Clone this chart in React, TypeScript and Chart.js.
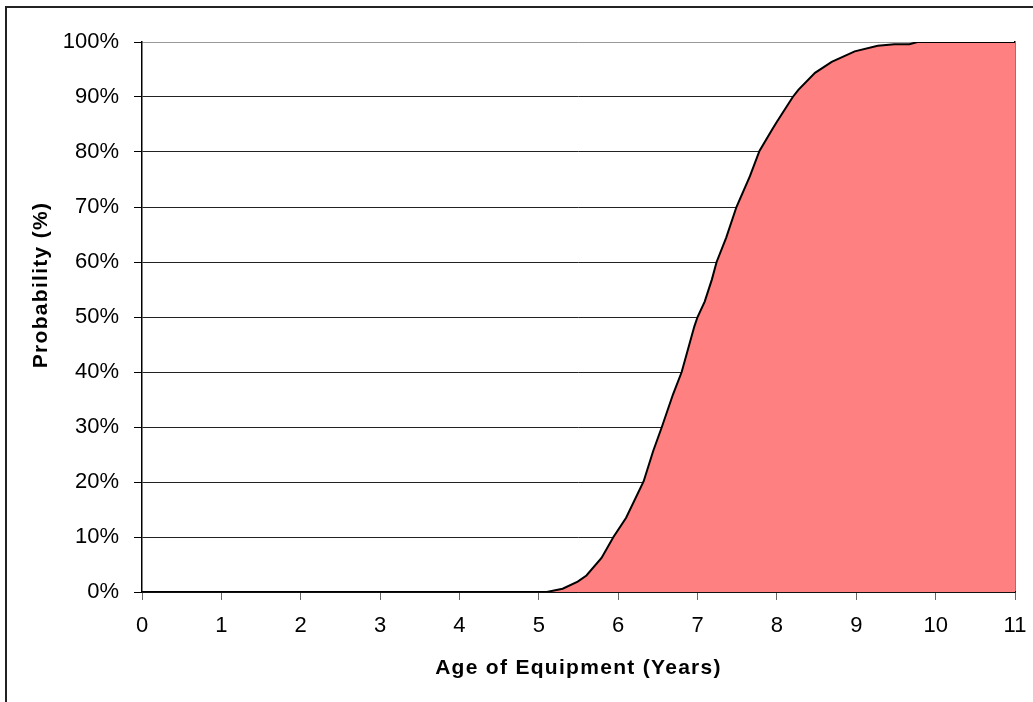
import React, { useEffect, useRef } from "react";
import { Chart, registerables } from "chart.js";

Chart.register(...registerables);

const ages = [0, 5.1, 5.3, 5.49, 5.6, 5.79, 5.94, 6.1, 6.32, 6.44, 6.55, 6.69, 6.8, 6.96, 7.0, 7.09, 7.18, 7.24, 7.36, 7.49, 7.66, 7.78, 7.94, 8.0, 8.2, 8.27, 8.48, 8.69, 8.98, 9.27, 9.48, 9.67, 9.77, 11];
const probabilities = [0, 0, 0.6, 1.9, 3, 6.2, 10, 13.5, 20.1, 25.6, 30, 35.9, 40, 48.3, 50, 52.8, 56.8, 60, 64.4, 70, 75.6, 80.2, 84.1, 85.5, 90, 91.3, 94.4, 96.4, 98.3, 99.3, 99.6, 99.6, 100, 100];
const xTitle = "Age of Equipment (Years)";
const yTitle = "Probability (%)";
const xMin = 0;
const xMax = 11;
const yMin = 0;
const yMax = 100;

const FONT = "'Liberation Sans', Arial, sans-serif";

const titlePlugin = {
  id: "axisTitles",
  afterDraw(chart: any) {
    const ctx = chart.ctx as CanvasRenderingContext2D;
    const area = chart.chartArea;
    ctx.save();
    ctx.fillStyle = "#000";
    ctx.font = `bold 21px ${FONT}`;
    (ctx as any).letterSpacing = "1.3px";
    ctx.textAlign = "center";
    ctx.textBaseline = "middle";
    ctx.fillText(xTitle, (area.left + area.right) / 2, 668);
    ctx.translate(41, 285);
    ctx.rotate(-Math.PI / 2);
    ctx.fillText(yTitle, 0, 0);
    ctx.restore();
  },
};

export default function App() {
  const canvasRef = useRef<HTMLCanvasElement | null>(null);

  useEffect(() => {
    if (!canvasRef.current) return;
    const chart = new Chart(canvasRef.current, {
      type: "line",
      data: {
        datasets: [
          {
            data: ages.map((a, i) => ({ x: a, y: probabilities[i] })),
            borderColor: "#000",
            borderWidth: 2,
            backgroundColor: "#FF8080",
            fill: "origin",
            pointRadius: 0,
            tension: 0,
          },
        ],
      },
      options: {
        animation: false,
        responsive: false,
        maintainAspectRatio: false,
        layout: { padding: { top: 42, right: 18, left: 0, bottom: 0 } },
        plugins: { legend: { display: false }, tooltip: { enabled: false }, title: { display: false } },
        scales: {
          x: {
            type: "linear",
            min: xMin,
            max: xMax,
            afterFit: (s: any) => {
              s.height = 110;
              s.paddingLeft = 0;
              s.paddingRight = 0;
            },
            ticks: {
              stepSize: 1,
              color: "#000",
              font: { family: FONT, size: 22 },
              padding: 13,
              maxRotation: 0,
            },
            grid: {
              drawOnChartArea: false,
              drawTicks: true,
              tickLength: 8,
              tickColor: "#666",
              tickWidth: 1,
            },
            border: { display: true, color: "#000", width: 1.5 },
          },
          y: {
            min: yMin,
            max: yMax,
            afterFit: (s: any) => {
              s.width = 142;
              s.paddingTop = 0;
              s.paddingBottom = 0;
            },
            ticks: {
              stepSize: 10,
              color: "#000",
              font: { family: FONT, size: 22 },
              padding: 15,
              callback: (v: any) => `${v}%`,
            },
            grid: {
              color: (c: any) => (c.tick && c.tick.value === 100 ? "#999" : "#222"),
              lineWidth: 1,
              tickLength: 8,
              tickColor: "#000",
            },
            border: { display: true, color: "#000", width: 1.5 },
          },
          yRight: {
            position: "right",
            min: yMin,
            max: yMax,
            afterFit: (s: any) => {
              s.width = 0;
              s.paddingTop = 0;
              s.paddingBottom = 0;
            },
            ticks: { display: false },
            grid: { drawOnChartArea: false, drawTicks: false },
            border: { display: true, color: "#000", width: 1.5 },
          },
        },
      },
      plugins: [titlePlugin],
    } as any);
    return () => chart.destroy();
  }, []);

  return (
    <div style={{ position: "absolute", left: 0, top: 0, width: 1033, height: 702, overflow: "hidden", background: "#fff" }}>
      <div
        style={{
          position: "absolute",
          left: 5,
          top: 6,
          width: 1100,
          height: 800,
          border: "2px solid #222",
          boxSizing: "border-box",
        }}
      />
      <canvas ref={canvasRef} width={1033} height={702} style={{ position: "absolute", left: 0, top: 0 }} />
    </div>
  );
}
